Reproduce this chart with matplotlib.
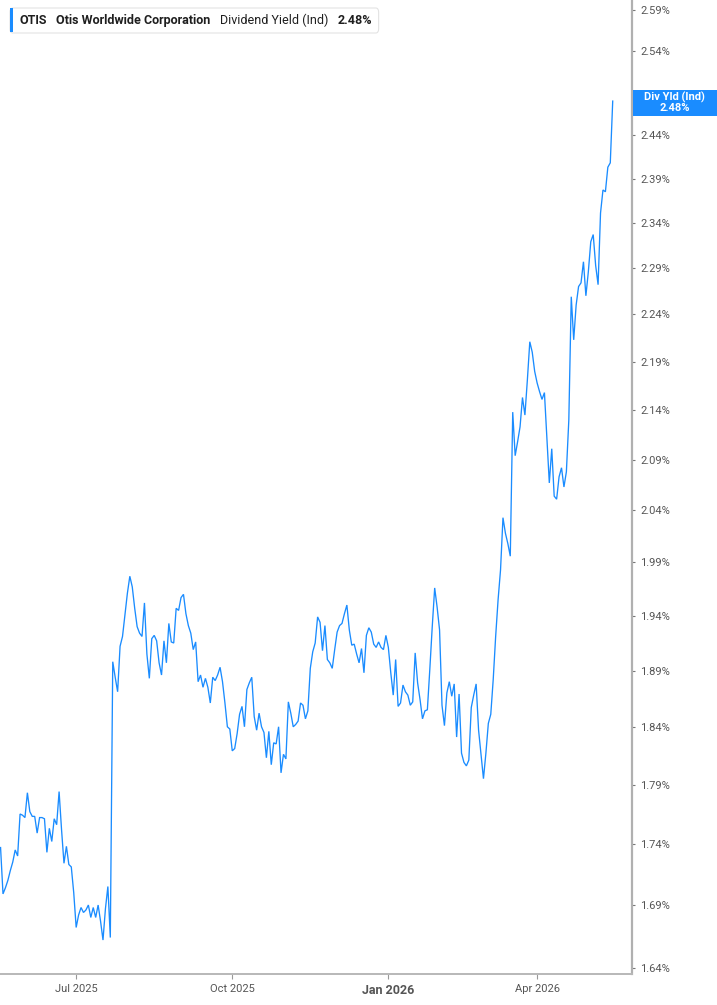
import numpy as np
import pandas as pd
import matplotlib
matplotlib.use("Agg")
import matplotlib.pyplot as plt
from matplotlib.patches import FancyBboxPatch, Rectangle
from matplotlib.ticker import FixedLocator, NullLocator

plt.rcParams['font.family'] = ['Roboto', 'DejaVu Sans']

# ---------------- data ----------------
ticker_symbol = "OTIS"
company_name = "Otis Worldwide Corporation"
metric_name = "Dividend Yield (Ind)"
metric_short = "Div Yld (Ind)"
last_value_label = "2.48%"

start_date = "2025-05-15"
market_holidays = ["2025-05-26", "2025-06-19", "2025-07-04", "2025-09-01",
                   "2025-11-27", "2025-12-25", "2026-01-01", "2026-01-19",
                   "2026-02-16", "2026-04-03"]

yield_pct = [
    1.737, 1.699, 1.704, 1.710, 1.718, 1.725, 1.735, 1.730, 1.765, 1.764,
    1.762, 1.783, 1.767, 1.763, 1.763, 1.749, 1.762, 1.762, 1.761, 1.733,
    1.753, 1.742, 1.761, 1.756, 1.784, 1.752, 1.724, 1.738, 1.723, 1.721,
    1.700, 1.672, 1.682, 1.688, 1.684, 1.686, 1.690, 1.680, 1.688, 1.680,
    1.690, 1.677, 1.662, 1.687, 1.705, 1.664, 1.898, 1.884, 1.871, 1.912,
    1.921, 1.941, 1.961, 1.977, 1.967, 1.947, 1.930, 1.924, 1.921, 1.952,
    1.905, 1.883, 1.919, 1.922, 1.917, 1.897, 1.886, 1.917, 1.897, 1.933,
    1.916, 1.915, 1.947, 1.945, 1.957, 1.960, 1.942, 1.931, 1.924, 1.909,
    1.916, 1.880, 1.886, 1.875, 1.883, 1.875, 1.861, 1.884, 1.881, 1.886,
    1.893, 1.880, 1.861, 1.840, 1.838, 1.819, 1.821, 1.834, 1.851, 1.858,
    1.840, 1.873, 1.879, 1.884, 1.849, 1.837, 1.852, 1.840, 1.835, 1.813,
    1.836, 1.807, 1.826, 1.825, 1.840, 1.800, 1.816, 1.812, 1.862, 1.852,
    1.840, 1.842, 1.845, 1.861, 1.859, 1.847, 1.854, 1.892, 1.907, 1.915,
    1.939, 1.934, 1.908, 1.931, 1.900, 1.897, 1.892, 1.909, 1.925, 1.931,
    1.933, 1.942, 1.950, 1.927, 1.913, 1.914, 1.905, 1.897, 1.910, 1.888,
    1.922, 1.929, 1.925, 1.914, 1.911, 1.916, 1.911, 1.909, 1.922, 1.911,
    1.888, 1.868, 1.900, 1.858, 1.861, 1.877, 1.871, 1.868, 1.859, 1.862,
    1.906, 1.879, 1.864, 1.847, 1.854, 1.855, 1.891, 1.930, 1.966, 1.948,
    1.927, 1.859, 1.841, 1.870, 1.880, 1.867, 1.878, 1.831, 1.869, 1.817,
    1.809, 1.806, 1.811, 1.857, 1.868, 1.878, 1.837, 1.816, 1.795, 1.817,
    1.843, 1.851, 1.882, 1.921, 1.955, 1.983, 2.033, 2.018, 2.008, 1.996,
    2.138, 2.094, 2.108, 2.123, 2.153, 2.135, 2.171, 2.211, 2.200, 2.180,
    2.168, 2.159, 2.151, 2.158, 2.113, 2.067, 2.101, 2.054, 2.051, 2.073,
    2.082, 2.063, 2.078, 2.130, 2.259, 2.213, 2.250, 2.270, 2.274, 2.297,
    2.260, 2.286, 2.319, 2.327, 2.293, 2.272, 2.351, 2.377, 2.375, 2.403,
    2.408, 2.480,
]

y_tick_values = [1.64, 1.69, 1.74, 1.79, 1.84, 1.89, 1.94, 1.99, 2.04, 2.09,
                 2.14, 2.19, 2.24, 2.29, 2.34, 2.39, 2.44, 2.49, 2.54, 2.59]
hidden_tick_labels = [2.49]   # covered by the value badge in the reference
x_tick_months = ["2025-07-01", "2025-10-01", "2026-01-01", "2026-04-01"]
x_tick_labels = ["Jul 2025", "Oct 2025", "Jan 2026", "Apr 2026"]

# ---------------- figure ----------------
W, H = 717, 1005
fig = plt.figure(figsize=(W / 100, H / 100), dpi=100)
fig.patch.set_facecolor("white")

ax = fig.add_axes([0.0, 31 / H, 631.5 / W, 974 / H])
ax.set_facecolor("white")

dates = pd.bdate_range(start=start_date, periods=len(yield_pct), freq="C",
                       holidays=market_holidays)
x = np.arange(len(dates))

line_color = "#1a8cff"
ax.plot(x, yield_pct, color=line_color, lw=0.95, solid_joinstyle="miter")

ax.set_yscale("log")
ax.set_ylim(1.6353, 2.6025)
ax.set_xlim(-0.23, len(x) - 1 + 7.7)

ax.yaxis.tick_right()
ax.yaxis.set_major_locator(FixedLocator(y_tick_values))
ax.yaxis.set_minor_locator(NullLocator())
ax.set_yticklabels(["" if v in hidden_tick_labels else f"{v:.2f}%" for v in y_tick_values])

tick_pos = [int(np.searchsorted(dates.values, np.datetime64(m))) for m in x_tick_months]
ax.xaxis.set_major_locator(FixedLocator(tick_pos))
ax.xaxis.set_minor_locator(NullLocator())
ax.set_xticklabels(x_tick_labels)

for s in ["top", "left"]:
    ax.spines[s].set_visible(False)
ax.spines["right"].set_color("#b0b0b0")
ax.spines["right"].set_linewidth(1.6)
ax.spines["bottom"].set_color("#b8b8b8")
ax.spines["bottom"].set_linewidth(1.4)

ax.tick_params(axis="y", which="major", direction="out", length=2.5, width=0.8,
               color="#777777", pad=4, labelsize=8, labelcolor="#555555")
ax.tick_params(axis="x", which="major", direction="out", length=3.5, width=0.8,
               color="#999999", pad=4, labelsize=8, labelcolor="#555555")
for lbl in ax.get_xticklabels():
    if lbl.get_text() == "Jan 2026":
        lbl.set_fontweight("bold")
        lbl.set_fontsize(9)
ax.grid(False)

# ---------------- legend box (top-left) ----------------
def fx(px):
    return px / W

def fy(py):
    return 1 - py / H

fig.canvas.draw()
renderer = fig.canvas.get_renderer()

segments = [(ticker_symbol, "bold"), (company_name, "bold"),
            (metric_name, "normal"), (last_value_label, "bold")]
cur = 20
ty = 20.5
for txt, wt in segments:
    t = fig.text(fx(cur), fy(ty), txt, fontsize=9, fontweight=wt, color="#1f1f1f",
                 ha="left", va="center", zorder=6)
    bb = t.get_window_extent(renderer)
    cur = bb.x1 + 9
box_right = cur - 9 + 7

box = FancyBboxPatch((fx(10), fy(33)), fx(box_right) - fx(10), fy(8) - fy(33),
                     boxstyle="round,pad=0,rounding_size=0.004",
                     transform=fig.transFigure, facecolor="white",
                     edgecolor="#e3e3e3", linewidth=0.8, zorder=5)
fig.patches.append(box)
bar = Rectangle((fx(10), fy(32.5)), fx(13) - fx(10), fy(8.5) - fy(32.5),
                transform=fig.transFigure, facecolor=line_color,
                edgecolor="none", zorder=6)
fig.patches.append(bar)

# ---------------- value badge on right axis ----------------
badge = Rectangle((fx(632.5), fy(116)), fx(717) - fx(632.5), fy(90) - fy(116),
                  transform=fig.transFigure, facecolor=line_color,
                  edgecolor="none", zorder=10)
fig.patches.append(badge)
fig.text(fx(674.5), fy(97.5), metric_short, fontsize=8, fontweight="bold",
         color="white", ha="center", va="center", zorder=11)
fig.text(fx(674.5), fy(108.3), last_value_label, fontsize=8, fontweight="bold",
         color="white", ha="center", va="center", zorder=11)

fig.savefig("out.png", dpi=100, facecolor="white")
